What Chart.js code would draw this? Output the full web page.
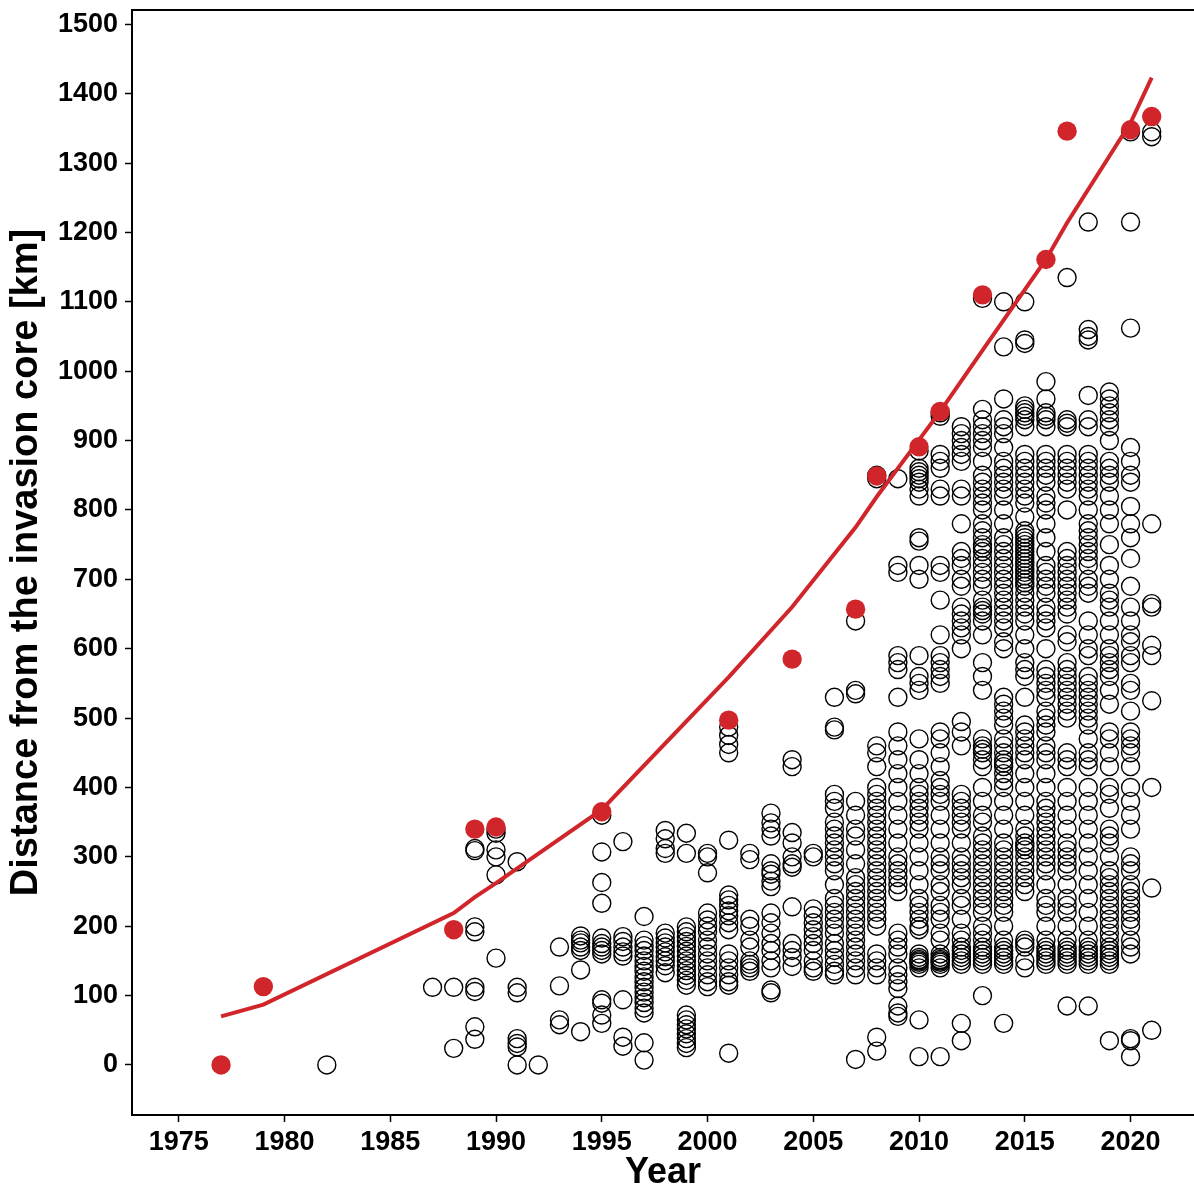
<!DOCTYPE html>
<html>
<head>
<meta charset="utf-8">
<script src="https://cdn.jsdelivr.net/npm/chart.js@4.4.1/dist/chart.umd.min.js"></script>
<style>
html,body{margin:0;padding:0;background:#fff;}
canvas{display:block;}
</style>
</head>
<body>
<canvas id="c" width="1194" height="1187"></canvas>
<script>
// ---- Data ----
const xTickValues = [1975, 1980, 1985, 1990, 1995, 2000, 2005, 2010, 2015, 2020];
const yTickValues = [0, 100, 200, 300, 400, 500, 600, 700, 800, 900, 1000, 1100, 1200, 1300, 1400, 1500];

// Maximum distance per year (red dots)
const maxYears = [1977, 1979, 1988, 1989, 1990, 1995, 2001, 2004, 2007, 2008, 2010, 2011, 2013, 2016, 2017, 2020, 2021];
const maxDist  = [0, 113, 195, 340, 343, 365, 497, 585, 657, 849, 891, 942, 1110, 1161, 1346, 1348, 1367];

// Fitted curve evaluated at the red-dot years
const fitDist  = [70, 87, 219, 242, 262, 368, 559, 660, 775, 819, 901, 942, 1030, 1161, 1214, 1358, 1423];

// Individual records per year (open circles)
const obs1982 = [0];
const obs1987 = [112];
const obs1988 = [112, 24];
const obs1989 = [309, 312, 199, 192, 112, 106, 55, 37];
const obs1990 = [340, 334, 310, 300, 274, 154];
const obs1991 = [293, 112, 104, 38, 31, 26, 0];
const obs1992 = [0];
const obs1993 = [170, 114, 65, 58];
const obs1994 = [186, 180, 176, 170, 165, 137, 48];
const obs1995 = [360, 307, 263, 233, 183, 175, 170, 165, 160, 94, 89, 72, 60];
const obs1996 = [322, 185, 178, 170, 163, 157, 94, 40, 27];
const obs1997 = [214, 180, 172, 165, 157, 150, 142, 135, 127, 120, 112, 105, 97, 90, 82, 75, 32, 7];
const obs1998 = [338, 326, 312, 305, 190, 183, 176, 170, 163, 156, 150, 143, 133];
const obs1999 = [334, 305, 199, 192, 185, 178, 171, 164, 157, 150, 143, 136, 129, 122, 115, 72, 65, 58, 52, 45, 38, 31, 25];
const obs2000 = [305, 300, 277, 219, 209, 200, 192, 180, 170, 160, 150, 140, 130, 120, 113];
const obs2001 = [487, 475, 462, 450, 324, 245, 238, 230, 222, 215, 205, 195, 160, 150, 140, 130, 120, 115, 17];
const obs2002 = [305, 296, 210, 200, 180, 170, 150, 145, 140, 135];
const obs2003 = [363, 349, 340, 330, 290, 280, 275, 265, 257, 219, 205, 190, 175, 165, 150, 140, 108, 104];
const obs2004 = [440, 430, 335, 320, 300, 290, 285, 228, 175, 165, 155, 142];
const obs2005 = [305, 300, 225, 215, 205, 195, 185, 175, 165, 150, 140, 135];
const obs2006 = [530, 487, 483, 390, 380, 370, 350, 340, 330, 320, 310, 300, 290, 280, 260, 240, 230, 220, 210, 200, 190, 175, 165, 155, 145, 135, 130];
const obs2007 = [640, 540, 535, 380, 360, 340, 330, 310, 290, 270, 260, 250, 240, 230, 220, 210, 200, 190, 180, 170, 160, 150, 140, 130, 8];
const obs2008 = [850, 845, 460, 450, 430, 400, 390, 380, 370, 360, 350, 340, 330, 320, 310, 300, 290, 280, 270, 260, 250, 240, 230, 220, 210, 200, 160, 150, 140, 130, 40, 20];
const obs2009 = [845, 720, 710, 590, 580, 570, 530, 480, 460, 440, 420, 400, 380, 360, 340, 320, 300, 290, 280, 270, 260, 250, 190, 180, 170, 160, 140, 130, 120, 110, 85, 75, 70];
const obs2010 = [885, 860, 855, 850, 845, 840, 830, 820, 760, 755, 720, 700, 590, 560, 550, 540, 470, 440, 420, 400, 390, 380, 370, 360, 350, 340, 320, 300, 280, 260, 240, 230, 220, 210, 200, 195, 160, 155, 152, 150, 148, 145, 140, 65, 12];
const obs2011 = [940, 935, 880, 870, 860, 830, 820, 720, 710, 670, 620, 590, 580, 570, 560, 550, 480, 470, 450, 430, 410, 400, 390, 380, 360, 340, 320, 300, 290, 280, 260, 250, 230, 220, 210, 190, 180, 160, 155, 152, 150, 148, 145, 140, 12];
const obs2012 = [920, 910, 900, 890, 880, 870, 830, 820, 780, 740, 730, 720, 700, 690, 660, 650, 640, 630, 620, 600, 495, 480, 460, 390, 380, 370, 360, 350, 340, 320, 300, 290, 280, 270, 260, 240, 230, 210, 190, 180, 170, 165, 160, 155, 150, 145, 60, 35];
const obs2013 = [1105, 945, 930, 920, 910, 900, 890, 870, 850, 840, 830, 820, 810, 800, 780, 770, 760, 750, 745, 740, 730, 720, 710, 700, 690, 670, 660, 655, 650, 640, 620, 580, 560, 540, 470, 460, 455, 450, 440, 430, 400, 380, 360, 350, 330, 320, 310, 300, 290, 280, 270, 260, 250, 240, 230, 220, 200, 190, 180, 170, 165, 160, 155, 150, 145, 100];
const obs2014 = [1100, 1035, 960, 930, 920, 910, 890, 870, 860, 850, 840, 830, 820, 800, 780, 760, 750, 740, 730, 720, 710, 700, 690, 680, 670, 660, 650, 640, 630, 610, 600, 530, 520, 510, 500, 490, 470, 460, 450, 440, 435, 430, 420, 410, 400, 380, 360, 340, 320, 310, 300, 290, 280, 270, 260, 250, 240, 230, 220, 200, 180, 170, 165, 160, 155, 150, 145, 60];
const obs2015 = [1100, 1045, 1040, 950, 945, 940, 935, 930, 920, 880, 870, 860, 850, 840, 830, 820, 810, 790, 770, 765, 760, 755, 750, 745, 740, 735, 730, 725, 720, 715, 710, 705, 700, 695, 690, 680, 670, 660, 650, 640, 620, 600, 580, 570, 560, 530, 490, 480, 470, 460, 450, 440, 420, 400, 380, 360, 340, 330, 320, 315, 310, 300, 290, 280, 270, 260, 250, 180, 175, 170, 150, 140];
const obs2016 = [985, 960, 940, 935, 930, 920, 880, 870, 860, 850, 840, 820, 810, 800, 780, 760, 740, 720, 710, 700, 690, 680, 660, 650, 640, 630, 600, 570, 560, 550, 540, 530, 510, 500, 490, 480, 460, 450, 440, 420, 400, 380, 370, 360, 350, 340, 330, 320, 310, 300, 290, 280, 260, 240, 230, 220, 200, 180, 170, 165, 160, 155, 150, 145];
const obs2017 = [1135, 930, 925, 920, 880, 870, 860, 850, 840, 830, 800, 740, 730, 720, 710, 700, 690, 680, 670, 660, 650, 620, 610, 580, 570, 560, 550, 540, 530, 520, 510, 500, 450, 440, 430, 400, 380, 360, 340, 320, 310, 300, 290, 280, 260, 240, 230, 220, 200, 180, 170, 165, 160, 155, 150, 145, 85];
const obs2018 = [1215, 1060, 1050, 1045, 965, 930, 920, 880, 870, 860, 850, 840, 830, 820, 800, 780, 770, 760, 750, 740, 730, 720, 700, 690, 680, 640, 620, 600, 590, 560, 550, 540, 530, 520, 510, 500, 490, 470, 450, 440, 430, 400, 380, 360, 340, 320, 300, 280, 260, 240, 220, 200, 180, 170, 165, 160, 155, 150, 145, 85];
const obs2019 = [970, 960, 950, 940, 930, 920, 900, 870, 860, 850, 840, 820, 800, 780, 750, 720, 700, 680, 670, 660, 640, 620, 600, 590, 580, 570, 560, 540, 520, 480, 470, 450, 430, 400, 390, 370, 340, 330, 320, 300, 280, 270, 260, 250, 240, 230, 220, 210, 200, 190, 180, 170, 165, 160, 155, 150, 145, 35];
const obs2020 = [1345, 1215, 1062, 890, 870, 850, 840, 805, 780, 760, 730, 690, 660, 640, 620, 610, 590, 580, 550, 540, 510, 480, 470, 460, 450, 430, 400, 380, 360, 340, 300, 290, 280, 260, 250, 240, 230, 220, 210, 200, 180, 170, 160, 38, 35, 12];
const obs2021 = [1345, 1338, 780, 665, 660, 605, 590, 525, 400, 255, 50];

const obsByYear = [
  [1982, obs1982], [1987, obs1987], [1988, obs1988], [1989, obs1989], [1990, obs1990],
  [1991, obs1991], [1992, obs1992], [1993, obs1993], [1994, obs1994], [1995, obs1995],
  [1996, obs1996], [1997, obs1997], [1998, obs1998], [1999, obs1999], [2000, obs2000],
  [2001, obs2001], [2002, obs2002], [2003, obs2003], [2004, obs2004], [2005, obs2005],
  [2006, obs2006], [2007, obs2007], [2008, obs2008], [2009, obs2009], [2010, obs2010],
  [2011, obs2011], [2012, obs2012], [2013, obs2013], [2014, obs2014], [2015, obs2015],
  [2016, obs2016], [2017, obs2017], [2018, obs2018], [2019, obs2019], [2020, obs2020],
  [2021, obs2021]
];

// ---- Build chart ----
const RED = '#D0262B';
const obsPoints = [];
obsByYear.forEach(([yr, vals]) => vals.forEach(v => obsPoints.push({x: yr, y: v})));
const maxPoints = maxYears.map((yr, i) => ({x: yr, y: maxDist[i]}));
const fitPoints = maxYears.map((yr, i) => ({x: yr, y: fitDist[i]}));

const FONT = "'Liberation Sans', Arial, Helvetica, sans-serif";

const frame = {
  id: 'frame',
  afterDatasetsDraw(chart) {
    const {ctx, chartArea} = chart;
    ctx.save();
    ctx.strokeStyle = '#000';
    ctx.lineWidth = 2;
    ctx.beginPath();
    ctx.moveTo(chartArea.left - 1, chartArea.top);
    ctx.lineTo(chartArea.right, chartArea.top);
    ctx.stroke();
    ctx.restore();
  }
};

function zeroPad(scale) {
  scale.paddingTop = 0; scale.paddingBottom = 0;
  scale.paddingLeft = 0; scale.paddingRight = 0;
}

new Chart(document.getElementById('c'), {
  type: 'scatter',
  data: {
    datasets: [
      {
        label: 'fit',
        data: fitPoints,
        showLine: true,
        borderColor: RED,
        borderWidth: 4,
        pointRadius: 0,
        fill: false,
        tension: 0,
        order: 0
      },
      {
        label: 'max',
        data: maxPoints,
        pointRadius: 9.7,
        pointBackgroundColor: RED,
        pointBorderColor: RED,
        pointBorderWidth: 0,
        showLine: false,
        order: 1
      },
      {
        label: 'records',
        data: obsPoints,
        pointRadius: 9,
        pointBackgroundColor: 'rgba(0,0,0,0)',
        pointBorderColor: '#000',
        pointBorderWidth: 1.4,
        showLine: false,
        order: 2
      }
    ]
  },
  options: {
    responsive: false,
    animation: false,
    devicePixelRatio: 1,
    layout: { autoPadding: false, padding: { top: 10, right: 0, left: 0, bottom: 0 } },
    plugins: { legend: { display: false }, tooltip: { enabled: false } },
    scales: {
      x: {
        type: 'linear',
        min: 1972.79,
        max: 2023.0,
        afterBuildTicks: (scale) => { scale.ticks = xTickValues.map(v => ({value: v})); },
        afterFit: (scale) => { scale.height = 72; zeroPad(scale); },
        grid: { display: true, drawOnChartArea: false, drawTicks: true, tickLength: 7, tickWidth: 1.5, tickColor: '#000' },
        border: { display: true, color: '#000', width: 2 },
        ticks: { color: '#000', font: { family: FONT, size: 27, weight: 'bold' }, padding: 4, maxRotation: 0, autoSkip: false, callback: (v) => String(v) },
        title: { display: true, text: 'Year', color: '#000', font: { family: FONT, size: 36, weight: 'bold', lineHeight: 0.8 }, padding: { top: 0, bottom: 0 } }
      },
      y: {
        type: 'linear',
        min: -72.1,
        max: 1520.6,
        afterBuildTicks: (scale) => { scale.ticks = yTickValues.map(v => ({value: v})); },
        afterFit: (scale) => { scale.width = 132; zeroPad(scale); },
        grid: { display: true, drawOnChartArea: false, drawTicks: true, tickLength: 7, tickWidth: 1.5, tickColor: '#000' },
        border: { display: true, color: '#000', width: 2 },
        ticks: { color: '#000', font: { family: FONT, size: 27, weight: 'bold' }, padding: 7, autoSkip: false, callback: (v) => String(v) },
        title: { display: true, text: 'Distance from the invasion core [km]', color: '#000', font: { family: FONT, size: 38, weight: 'bold', lineHeight: 1.2 }, padding: { top: 4, bottom: 0 } }
      }
    }
  },
  plugins: [frame]
});
</script>
</body>
</html>
